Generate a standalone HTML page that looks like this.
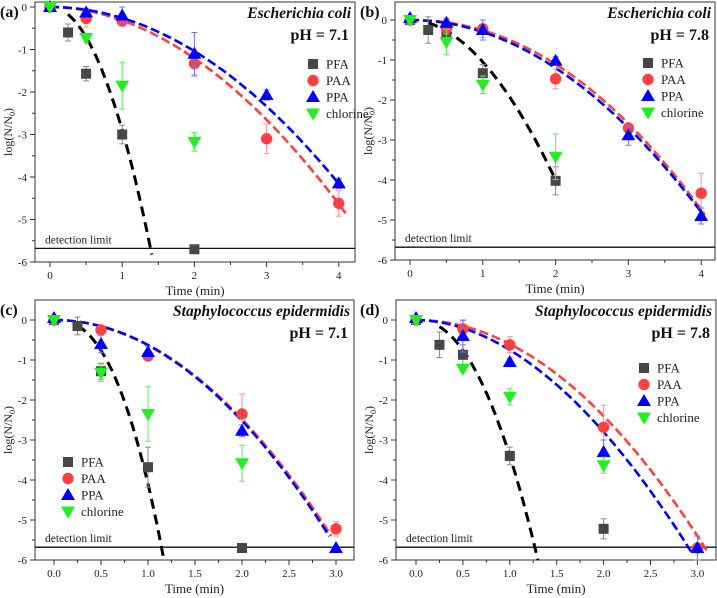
<!DOCTYPE html>
<html><head><meta charset="utf-8"><style>
body{margin:0;background:#fff}
svg{display:block}
svg text{font-family:"Liberation Serif","DejaVu Serif",serif}
</style></head><body>
<svg id="fig" width="717" height="598" viewBox="0 0 717 598" xmlns="http://www.w3.org/2000/svg" font-family="Liberation Serif, serif"></svg>
<script>
const series = ['PFA','PAA','PPA','chlorine'];
const colors = ['#474747','#ff4040','#0000ff','#22ee22'];
const errColors = ['#888','#ff9090','#7070ff','#55ee55'];
// panel a
const aTimes = [[0,0.25,0.5,1,2],[0,0.5,1,2,3,4],[0,0.5,1,2,3,4],[0,0.5,1,2]];
const aVals = [[0,-0.6,-1.57,-3.0,-5.7],[0,-0.27,-0.33,-1.33,-3.1,-4.62],[0,-0.13,-0.2,-1.1,-2.07,-4.15],[0,-0.73,-1.85,-3.17]];
const aErr = [[0.05,0.2,0.17,0.22,0.05],[0.05,0.2,0.12,0.3,0.35,0.3],[0.05,0.1,0.2,0.5,0.12,0.12],[0.05,0.1,0.55,0.22]];
// panel b
const bTimes = [[0,0.25,0.5,1,2],[0,0.5,1,2,3,4],[0,0.5,1,2,3,4],[0,0.5,1,2]];
const bVals = [[0,-0.25,-0.3,-1.33,-4.02],[0,-0.2,-0.22,-1.47,-2.7,-4.33],[0.05,-0.07,-0.25,-1.02,-2.88,-4.9],[0,-0.55,-1.62,-3.42]];
const bErr = [[0.05,0.33,0.25,0.22,0.35],[0.05,0.15,0.22,0.25,0.12,0.5],[0.05,0.1,0.25,0.1,0.25,0.2],[0.05,0.32,0.22,0.57]];
// panel c
const cTimes = [[0,0.25,0.5,1,2],[0,0.5,1,2,3],[0,0.5,1,2,3],[0,0.5,1,2]];
const cVals = [[0,-0.15,-1.28,-3.68,-5.7],[0,-0.25,-0.9,-2.35,-5.22],[0.05,-0.6,-0.8,-2.77,-5.7],[0,-1.32,-2.35,-3.58]];
const cErr = [[0.05,0.22,0.2,0.5,0.05],[0.05,0.08,0.1,0.5,0.18],[0.05,0.22,0.15,0.15,0.05],[0.05,0.22,0.68,0.45]];
// panel d
const dTimes = [[0,0.25,0.5,1,2],[0,0.5,1,2,3],[0,0.5,1,2,3],[0,0.5,1,2]];
const dVals = [[0,-0.62,-0.87,-3.4,-5.22],[0,-0.22,-0.62,-2.68,-5.7],[0.05,-0.4,-1.05,-3.3,-5.7],[0,-1.22,-1.92,-3.63]];
const dErr = [[0.05,0.32,0.25,0.22,0.25],[0.05,0.2,0.2,0.55,0.05],[0.05,0.4,0.1,0.3,0.3],[0.05,0.08,0.2,0.2]];
// fit curves y = -k * t^p for PFA, PAA, PPA
const aFitK = [2.9,0.315,0.26]; const aFitP = [2.03,1.94,2.0]; const aFitEnd = [1.41,4.1,4.0];
const bFitK = [1.05,0.258,0.3]; const bFitP = [1.93,2.1,2.0]; const bFitEnd = [2.0,4.05,4.0];
const cFitK = [4.1,0.62,0.63]; const cFitP = [2.43,2.0,2.0]; const cFitEnd = [1.17,2.95,2.93];
const dFitK = [3.4,0.6,0.75]; const dFitP = [2.17,2.0,1.9]; const dFitEnd = [1.3,3.12,2.95];
const aXTicks = ['0','1','2','3','4']; const cXTicks = ['0.0','0.5','1.0','1.5','2.0','2.5','3.0'];
const yTicks = ['0','-1','-2','-3','-4','-5','-6'];
const detLimit = -5.68;

const NS='http://www.w3.org/2000/svg';
const svg=document.getElementById('fig');
const FF='Liberation Serif, DejaVu Serif, serif';
function mk(tag,attrs,parent){const e=document.createElementNS(NS,tag);for(const k in attrs)e.setAttribute(k,attrs[k]);if(tag==='text')e.setAttribute('font-family',FF);(parent||svg).appendChild(e);return e;}

function panel(cfg){
  const g=mk('g',{});
  
  
  const sx=t=>cfg.x0+t*cfg.xs, sy=v=>cfg.y0-v*cfg.ys;
  const fr=mk('rect',{x:cfg.L,y:cfg.T,width:cfg.R-cfg.L,height:sy(-6)-cfg.T,fill:'none',stroke:'#333','stroke-width':1},g);
  
  
  const yb=sy(-6);
  const nT=cfg.xt.length;
  for(let i=0;i<nT;i++){
    const v=i*cfg.xstep, X=sx(v);
    mk('line',{x1:X,x2:X,y1:yb,y2:yb+5,stroke:'#333'},g);
    const t=mk('text',{x:X,y:yb+17,'font-size':11,'text-anchor':'middle',fill:'#222'},g);
    t.textContent=cfg.xt[i];
    
    
    if(i<nT-1){const Xm=sx(v+cfg.xstep/2);mk('line',{x1:Xm,x2:Xm,y1:yb,y2:yb+3,stroke:'#333'},g);}
  }
  for(let i=0;i<yTicks.length;i++){
    const Y=sy(-i);
    mk('line',{x1:cfg.L-5,x2:cfg.L,y1:Y,y2:Y,stroke:'#333'},g);
    const t=mk('text',{x:cfg.L-8,y:Y+4,'font-size':11,'text-anchor':'end',fill:'#222'},g);
    t.textContent=yTicks[i];
    
    
    if(i<6){const Ym=sy(-i-0.5);mk('line',{x1:cfg.L-3,x2:cfg.L,y1:Ym,y2:Ym,stroke:'#333'},g);}
  }
  const xl=mk('text',{x:(cfg.L+cfg.R)/2,y:yb+33,'font-size':13,'text-anchor':'middle',fill:'#222'},g);
  xl.textContent='Time (min)';
  
  
  const ylY=(cfg.T+yb)/2;
  const yl=mk('text',{x:cfg.L-23,y:ylY,'font-size':12,'text-anchor':'middle',fill:'#222',transform:`rotate(-90 ${cfg.L-23} ${ylY})`},g);
  yl.innerHTML='log(N/N<tspan font-size="8" dy="3">0</tspan><tspan dy="-3">)</tspan>';
  
  
  const dl=mk('line',{x1:cfg.L,x2:cfg.R,y1:sy(detLimit),y2:sy(detLimit),stroke:'#111','stroke-width':1.3},g);
  
  
  const dt=mk('text',{x:cfg.L+10,y:sy(detLimit)-5,'font-size':11.5,fill:'#222'},g);
  dt.textContent='detection limit';
  
  
  for(let s=0;s<3;s++){
    let d='';const k=cfg.fk[s],p=cfg.fp[s],te=cfg.fe[s];const ts=s===0?0.25:0;
    for(let j=0;j<=60;j++){const t=ts+(te-ts)*j/60;d+=(j?'L':'M')+sx(t).toFixed(1)+','+sy(-k*Math.pow(t,p)).toFixed(1);}
    const pl=mk('path',{d:d,fill:'none',stroke:s===0?'#000':colors[s],'stroke-width':s===0?3:2.6,'stroke-dasharray':s===0?'10,6':'9,4'},g);
    
    
  }
  for(let s=0;s<4;s++){
    for(let j=0;j<cfg.t[s].length;j++){
      const X=sx(cfg.t[s][j]),Y=sy(cfg.v[s][j]),e=cfg.e[s][j]*cfg.ys;
      mk('line',{x1:X,x2:X,y1:Y-e,y2:Y+e,stroke:errColors[s],'stroke-width':1},g);
      mk('line',{x1:X-3,x2:X+3,y1:Y-e,y2:Y-e,stroke:errColors[s]},g);
      mk('line',{x1:X-3,x2:X+3,y1:Y+e,y2:Y+e,stroke:errColors[s]},g);
      const m=marker(s,X,Y,g);
      
      
    }
  }
  for(let s=0;s<4;s++){
    const Y=cfg.lgY+s*16.5;
    const m=marker(s,cfg.lgX,Y,g);
    
    
    const t=mk('text',{x:cfg.lgX+13,y:Y+4.5,'font-size':13,fill:'#222'},g);
    t.textContent=series[s];
    
    
  }
  const pl=mk('text',{x:cfg.plX,y:cfg.T+15,'font-size':16,'font-weight':'bold',fill:'#111'},g);
  pl.textContent='('+cfg.id+')';
  
  
  const ti=mk('text',{x:cfg.R-4,y:cfg.T+16,'font-size':15.5,'font-weight':'bold','font-style':'italic','text-anchor':'end',fill:'#111'},g);
  ti.textContent=cfg.title;
  
  
  const ph=mk('text',{x:cfg.R-6,y:cfg.T+38,'font-size':16,'font-weight':'bold','text-anchor':'end',fill:'#111'},g);
  ph.textContent=cfg.ph;
  
  
}
function marker(s,X,Y,g){
  if(s===0)return mk('rect',{x:X-5,y:Y-5,width:10,height:10,fill:colors[0]},g);
  if(s===1)return mk('circle',{cx:X,cy:Y,r:5.7,fill:colors[1]},g);
  if(s===2)return mk('polygon',{points:`${X},${Y-7} ${X-7},${Y+5} ${X+7},${Y+5}`,fill:colors[2]},g);
  return mk('polygon',{points:`${X-7},${Y-5} ${X+7},${Y-5} ${X},${Y+7}`,fill:colors[3]},g);
}
panel({id:'a',L:35,R:355,T:2,x0:50,xs:72.2,y0:7,ys:42.5,xstep:1,xt:aXTicks,t:aTimes,v:aVals,e:aErr,fk:aFitK,fp:aFitP,fe:aFitEnd,lgX:313,lgY:64,plX:0,title:'Escherichia coli',ph:'pH = 7.1'});
panel({id:'b',L:395,R:715,T:2,x0:410,xs:72.8,y0:20,ys:40,xstep:1,xt:aXTicks,t:bTimes,v:bVals,e:bErr,fk:bFitK,fp:bFitP,fe:bFitEnd,lgX:648,lgY:63,plX:360,title:'Escherichia coli',ph:'pH = 7.8'});
panel({id:'c',L:35,R:354,T:300,x0:54,xs:94,y0:320,ys:40,xstep:0.5,xt:cXTicks,t:cTimes,v:cVals,e:cErr,fk:cFitK,fp:cFitP,fe:cFitEnd,lgX:68,lgY:462,plX:0,title:'Staphylococcus epidermidis',ph:'pH = 7.1'});
panel({id:'d',L:396,R:716,T:300,x0:416,xs:93.8,y0:320,ys:40,xstep:0.5,xt:cXTicks,t:dTimes,v:dVals,e:dErr,fk:dFitK,fp:dFitP,fe:dFitEnd,lgX:644,lgY:368,plX:360,title:'Staphylococcus epidermidis',ph:'pH = 7.8'});
</script>
</body></html>
